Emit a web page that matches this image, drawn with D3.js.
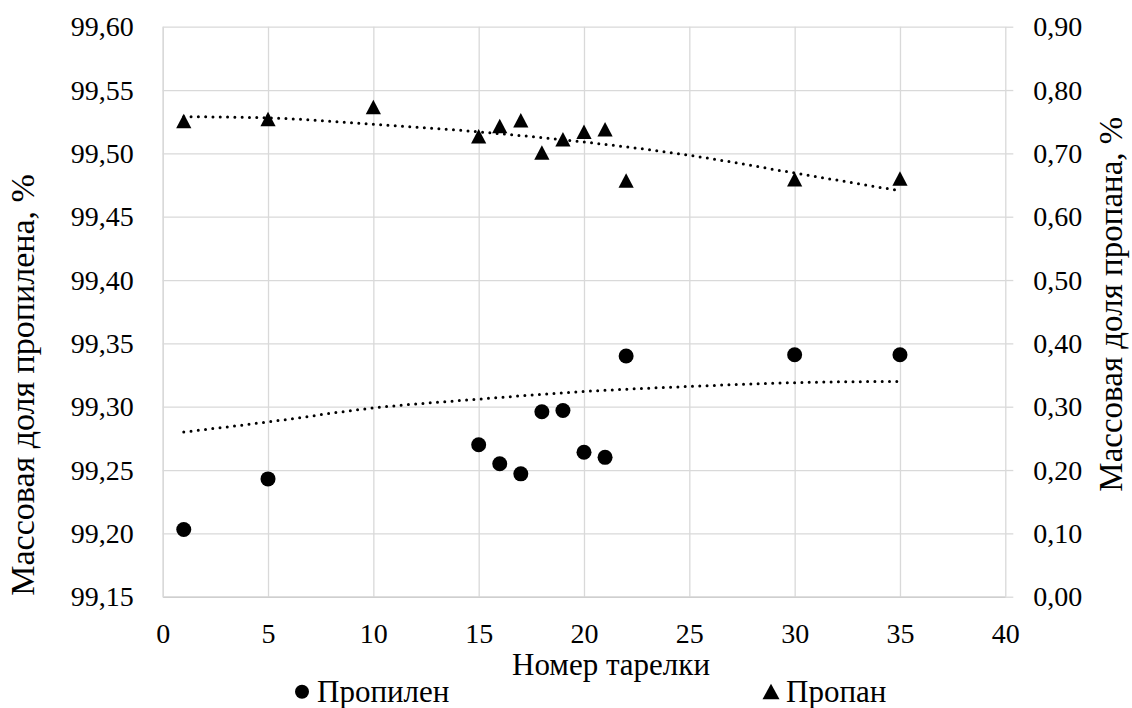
<!DOCTYPE html>
<html>
<head>
<meta charset="utf-8">
<script src="https://d3js.org/d3.v7.min.js"></script>
<style>
  body { margin: 0; background: white; }
  text { font-family: "Liberation Serif", "Times New Roman", "Liberation Sans", sans-serif; fill: black; }
</style>
</head>
<body>
<svg id="chart" width="1132" height="708"></svg>
<script>
    // tray numbers and measured values
    var trays = [1, 5, 10, 15, 16, 17, 18, 19, 20, 21, 22, 30, 35];
    var propylene = [99.203, 99.243, null, 99.270, 99.255, 99.247, 99.296, 99.297, 99.264, 99.260, 99.340, 99.341, 99.341];
    var propane = [0.750, 0.753, 0.772, 0.726, 0.742, 0.751, 0.700, 0.721, 0.733, 0.737, 0.656, 0.658, 0.659];

    // trend lines (polynomial, as drawn in the source)
    var trendX = [1, 5, 10, 15, 20, 25, 30, 35];
    var propyleneTrend = [99.280, 99.288, 99.299, 99.306, 99.312, 99.316, 99.319, 99.320];
    var propaneTrend = [0.758, 0.756, 0.746, 0.734, 0.718, 0.697, 0.669, 0.641];

    var xTicks = [0, 5, 10, 15, 20, 25, 30, 35, 40];
    var leftTicks = [99.15, 99.20, 99.25, 99.30, 99.35, 99.40, 99.45, 99.50, 99.55, 99.60];
    var rightTicks = [0, 0.1, 0.2, 0.3, 0.4, 0.5, 0.6, 0.7, 0.8, 0.9];

    var margin = {top: 26.7, right: 126.7, bottom: 111.3, left: 162.7},
        width = 1132 - margin.left - margin.right,
        height = 708 - margin.top - margin.bottom;

    var fontFam = '"Liberation Serif", "Times New Roman", "Liberation Sans", sans-serif';
    var tickSize = "28px";

    var svg = d3.select("#chart")
        .append("g")
        .attr("transform", "translate(" + margin.left + "," + margin.top + ")");

    var x = d3.scaleLinear().domain([0, 40]).range([0, width]);
    var yL = d3.scaleLinear().domain([99.15, 99.60]).range([height, 0]);
    var yR = d3.scaleLinear().domain([0, 0.90]).range([height, 0]);

    var fmt = function(d) { return d.toFixed(2).replace(".", ","); };

    // gridlines
    svg.append("g")
        .call(d3.axisLeft(yL).tickValues(leftTicks).tickSize(-width).tickFormat(""))
        .call(g => g.select(".domain").remove())
        .call(g => g.selectAll("line").attr("stroke", "#d9d9d9").attr("stroke-width", 1.3));
    svg.append("g")
        .attr("transform", "translate(0," + height + ")")
        .call(d3.axisBottom(x).tickValues(xTicks).tickSize(-height).tickFormat(""))
        .call(g => g.select(".domain").remove())
        .call(g => g.selectAll("line").attr("stroke", "#d9d9d9").attr("stroke-width", 1.3));

    // bottom axis
    var xAxis = svg.append("g")
        .attr("transform", "translate(0," + height + ")")
        .call(d3.axisBottom(x).tickValues(xTicks).tickSize(0).tickPadding(26));
    xAxis.attr("font-family", null);
    xAxis.select(".domain").attr("stroke", "#cfcfcf").attr("stroke-width", 1.5);
    xAxis.selectAll("text").style("font-size", tickSize).style("font-family", fontFam);

    // left axis
    var lAxis = svg.append("g")
        .call(d3.axisLeft(yL).tickValues(leftTicks).tickSize(0).tickPadding(29).tickFormat(fmt));
    lAxis.attr("font-family", null);
    lAxis.select(".domain").attr("stroke", "#d9d9d9").attr("stroke-width", 1.3);
    lAxis.selectAll("text").style("font-size", tickSize).style("font-family", fontFam);

    // right axis
    var rAxis = svg.append("g")
        .attr("transform", "translate(" + width + ",0)")
        .call(d3.axisRight(yR).tickValues(rightTicks).tickSize(8).tickPadding(20).tickFormat(fmt));
    rAxis.attr("font-family", null);
    rAxis.select(".domain").remove();
    rAxis.selectAll("line").attr("stroke", "#d9d9d9").attr("stroke-width", 1.3);
    rAxis.selectAll("text").style("font-size", tickSize).style("font-family", fontFam);

    // trend lines
    var dotted = function(sel) {
        sel.attr("fill", "none").attr("stroke", "black").attr("stroke-width", 3)
           .attr("stroke-linecap", "round").attr("stroke-dasharray", "0,7.3");
    };
    svg.append("path")
        .datum(trendX.map((t, i) => [t, propyleneTrend[i]]))
        .attr("d", d3.line().curve(d3.curveMonotoneX).x(d => x(d[0])).y(d => yL(d[1])))
        .call(dotted);
    svg.append("path")
        .datum(trendX.map((t, i) => [t, propaneTrend[i]]))
        .attr("d", d3.line().curve(d3.curveMonotoneX).x(d => x(d[0])).y(d => yR(d[1])))
        .call(dotted);

    // propylene points
    var pData = trays.map((t, i) => ({t: t, v: propylene[i]})).filter(d => d.v != null);
    svg.selectAll(".dot")
        .data(pData)
        .enter().append("circle")
        .attr("class", "dot")
        .attr("cx", d => x(d.t))
        .attr("cy", d => yL(d.v))
        .attr("r", 7.5)
        .attr("fill", "black");

    // propane points
    var tri = "M0,-8L7.6,6.5L-7.6,6.5Z";
    svg.selectAll(".tri")
        .data(trays.map((t, i) => ({t: t, v: propane[i]})))
        .enter().append("path")
        .attr("class", "tri")
        .attr("d", tri)
        .attr("transform", d => "translate(" + x(d.t) + "," + yR(d.v) + ")")
        .attr("fill", "black");

    // axis titles
    svg.append("text")
        .attr("x", 611 - margin.left)
        .attr("y", height + 78)
        .attr("text-anchor", "middle")
        .style("font-size", "31px")
        .text("Номер тарелки");

    svg.append("text")
        .attr("transform", "translate(" + (34 - margin.left) + "," + (height - 1) + ") rotate(-90)")
        .attr("text-anchor", "start")
        .style("font-size", "34px")
        .text("Массовая доля пропилена, %");

    svg.append("text")
        .attr("transform", "translate(" + (width + 117) + "," + (height - 105) + ") rotate(-90)")
        .attr("text-anchor", "start")
        .style("font-size", "33px")
        .text("Массовая доля пропана, %");

    // legend
    var leg = svg.append("g").attr("transform", "translate(0," + (height + 95) + ")");
    leg.append("circle").attr("cx", 302 - margin.left).attr("cy", 0).attr("r", 7).attr("fill", "black");
    leg.append("text").attr("x", 317 - margin.left).attr("y", 10).style("font-size", "31px").text("Пропилен");
    leg.append("path").attr("d", "M0,-8L8.5,7.5L-8.5,7.5Z").attr("fill", "black")
        .attr("transform", "translate(" + (771 - margin.left) + ",0)");
    leg.append("text").attr("x", 786 - margin.left).attr("y", 10).style("font-size", "31px").text("Пропан");
</script>
</body>
</html>
